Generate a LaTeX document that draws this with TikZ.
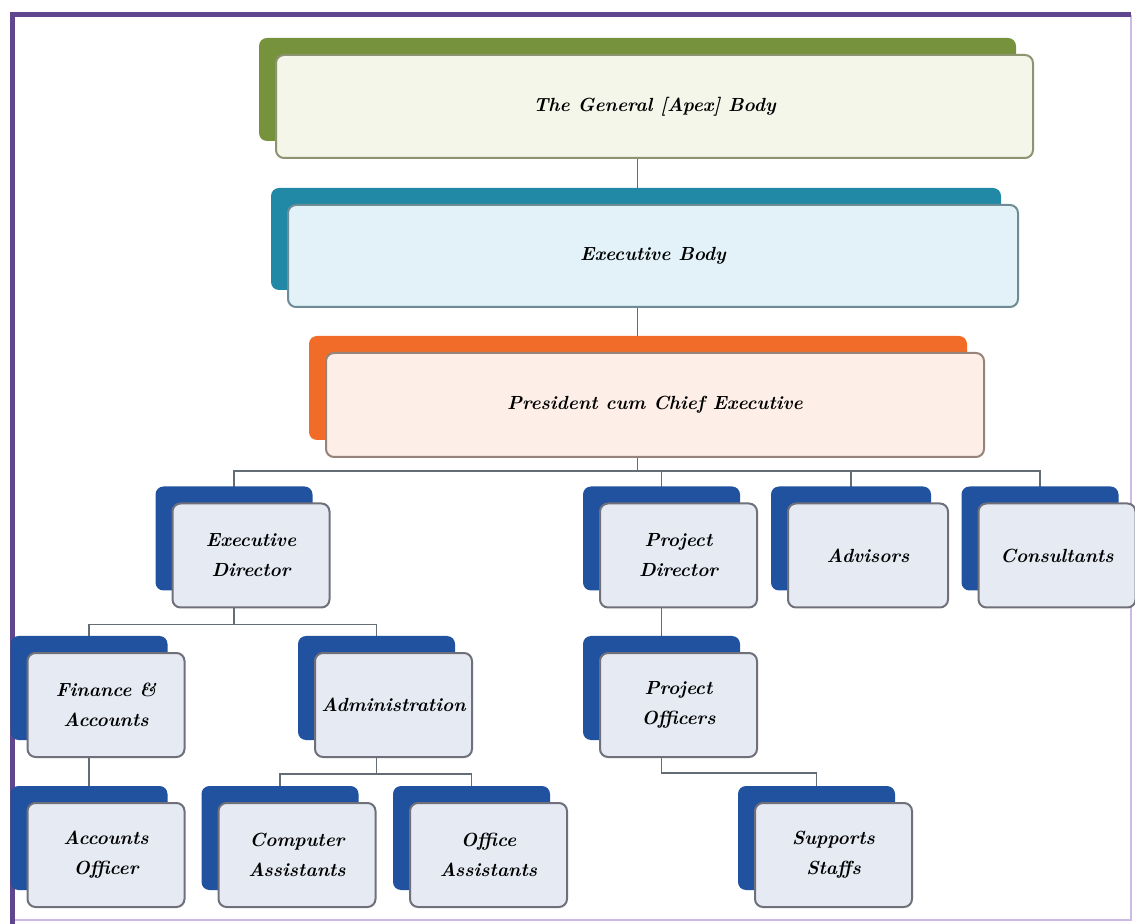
\documentclass[tikz,border=0pt]{standalone}
\usetikzlibrary{shadows,backgrounds}

\definecolor{frame}{RGB}{96,70,140}
\definecolor{framelight}{RGB}{205,185,230}
\definecolor{greentab}{RGB}{118,146,60}
\definecolor{greenfill}{RGB}{244,246,234}
\definecolor{greenedge}{RGB}{140,148,112}
\definecolor{tealtab}{RGB}{33,137,165}
\definecolor{tealfill}{RGB}{226,242,248}
\definecolor{tealedge}{RGB}{110,140,150}
\definecolor{orangetab}{RGB}{240,108,40}
\definecolor{orangefill}{RGB}{253,239,231}
\definecolor{orangeedge}{RGB}{150,132,122}
\definecolor{bluetab}{RGB}{32,82,160}
\definecolor{bluefill}{RGB}{229,234,243}
\definecolor{blueedge}{RGB}{112,112,122}
\definecolor{linkgray}{RGB}{100,108,118}

\tikzset{
  orgbox/.style={rounded corners=4pt, line width=1pt, align=center, inner sep=0pt,
    minimum width=78.5pt, minimum height=52pt,
    font=\bfseries\itshape\fontsize{9.5}{15}\selectfont},
  greenbox/.style={orgbox, draw=greenedge, fill=greenfill, minimum height=51.5pt,
    general shadow={fill=greentab, shadow xshift=-8.5pt, shadow yshift=8.5pt}},
  tealbox/.style={orgbox, draw=tealedge, fill=tealfill, minimum height=51pt,
    general shadow={fill=tealtab, shadow xshift=-8.5pt, shadow yshift=8.5pt}},
  orangebox/.style={orgbox, draw=orangeedge, fill=orangefill,
    general shadow={fill=orangetab, shadow xshift=-8.5pt, shadow yshift=8.5pt}},
  bluebox/.style={orgbox, draw=blueedge, fill=bluefill,
    general shadow={fill=bluetab, shadow xshift=-8.5pt, shadow yshift=8.5pt}},
  midtab/.style={xshift=-8.5pt},
  link/.style={draw=linkgray, line width=0.8pt}
}

\begin{document}
\begin{tikzpicture}[x=0.5pt,y=-0.5pt]
  \useasboundingbox (0,0) rectangle (1135,924);

  % frame
  \draw[framelight, line width=0.8pt] (1131,15) -- (1131,920) -- (12,920);
  \draw[frame, line width=2.5pt] (1131,15) -- (12,15) -- (12,924);

  % top levels
  \node[greenbox, minimum width=378.5pt] (gen) at (654.5,106.5) {The General [Apex] Body};
  \node[tealbox, minimum width=365pt] (exe) at (653,256) {Executive Body};
  \node[orangebox, minimum width=329pt] (pres) at (655,405) {President cum Chief Executive};

  % second level
  \node[bluebox] (ed) at (251,555.5) {Executive\\Director};
  \node[bluebox] (pd) at (678.5,555.5) {Project\\Director};
  \node[bluebox, minimum width=80pt] (adv) at (868,555.5) {Advisors};
  \node[bluebox] (con) at (1057,555.5) {Consultants};

  % third level
  \node[bluebox] (fin) at (106,705) {Finance \&\\Accounts};
  \node[bluebox] (adm) at (393.5,705) {Administration};
  \node[bluebox] (po) at (678.5,705) {Project\\Officers};

  % fourth level
  \node[bluebox] (ao) at (106,855) {Accounts\\Officer};
  \node[bluebox] (ca) at (297,855) {Computer\\Assistants};
  \node[bluebox] (oa) at (488.5,855) {Office\\Assistants};
  \node[bluebox] (ss) at (833.5,855) {Supports\\Staffs};

  \begin{scope}[on background layer]
    \draw[link] ([midtab]gen.south) -- ([midtab]gen.south |- exe.north);
    \draw[link] ([midtab]gen.south |- exe.south) -- ([midtab]gen.south |- pres.north);
    \foreach \c in {ed,pd,adv,con}
      \draw[link] ([midtab]gen.south |- pres.south) -- ++(0,-6.5pt) -| ([midtab]\c.north);
    \foreach \c in {fin,adm}
      \draw[link] ([midtab]ed.south) -- ++(0,-8pt) -| ([midtab]\c.north);
    \draw[link] ([midtab]fin.south) -- ([midtab]ao.north);
    \foreach \c in {ca,oa}
      \draw[link] ([midtab]adm.south) -- ++(0,-8pt) -| ([midtab]\c.north);
    \draw[link] ([midtab]pd.south) -- ([midtab]po.north);
    \draw[link] ([midtab]po.south) -- ++(0,-7.5pt) -| ([midtab]ss.north);
  \end{scope}
\end{tikzpicture}
\end{document}
